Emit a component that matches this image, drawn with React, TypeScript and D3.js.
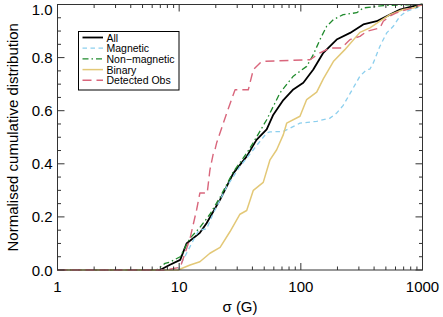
import React from 'react';
import * as d3 from 'd3';

// sigma (G) values and cumulative fractions
const allSigma = [1, 6.96, 8.41, 10.2, 11.5, 14.8, 16.8, 21.7, 27.9, 35.9, 43.2, 52.4, 59.4, 71.8, 86.7, 104.8, 126.6, 153, 197, 254, 326, 420, 540, 653, 840, 1000];
const allValues = [0, 0, 0.02, 0.038, 0.1, 0.14, 0.176, 0.265, 0.365, 0.428, 0.49, 0.53, 0.585, 0.64, 0.68, 0.705, 0.755, 0.818, 0.868, 0.893, 0.925, 0.937, 0.962, 0.981, 0.994, 1.0];

const magSigma = [1, 9.78, 11.5, 13.1, 14.5, 16.8, 19.1, 24.6, 31.6, 40.7, 52.4, 55.8, 71.8, 98.4, 135, 173.6, 197, 223, 254, 306, 348, 370, 394, 447, 508, 575, 653, 742, 896, 1000];
const magValues = [0, 0, 0.063, 0.113, 0.15, 0.155, 0.214, 0.314, 0.39, 0.453, 0.516, 0.52, 0.522, 0.553, 0.56, 0.572, 0.591, 0.62, 0.665, 0.73, 0.755, 0.757, 0.78, 0.843, 0.893, 0.918, 0.956, 0.975, 0.987, 1.0];

const nonMagSigma = [1, 6.5, 7.65, 8.41, 10.2, 12.3, 14.8, 17.9, 21.7, 27.9, 35.9, 40.7, 52.4, 67.4, 86.7, 111.7, 126.6, 143.7, 163, 185, 223, 288, 326, 476, 1000];
const nonMagValues = [0, 0, 0.025, 0.03, 0.05, 0.12, 0.16, 0.21, 0.275, 0.37, 0.44, 0.48, 0.566, 0.667, 0.73, 0.767, 0.811, 0.868, 0.918, 0.943, 0.962, 0.969, 0.987, 0.996, 1.0];

const binSigma = [1, 9.78, 12.3, 14.8, 17.9, 21.7, 26.2, 31.6, 35.9, 40.7, 49.1, 55.8, 63.3, 71.8, 76.5, 98.4, 111.7, 135, 153, 185, 230, 306, 370, 447, 540, 695, 840, 1000];
const binValues = [0, 0, 0.019, 0.031, 0.063, 0.085, 0.145, 0.21, 0.224, 0.3, 0.33, 0.415, 0.453, 0.51, 0.553, 0.579, 0.642, 0.67, 0.72, 0.785, 0.83, 0.895, 0.912, 0.937, 0.962, 0.981, 0.987, 1.0];

const obsSigma = [1, 7.65, 10.2, 12.3, 13.9, 14.8, 17.0, 17.9, 19.1, 19.7, 20.3, 24.6, 28.8, 37.0, 40.7, 46.2, 49.1, 119, 143.7, 173.6, 215, 254, 306, 348, 447, 476, 540, 614, 742, 896, 1000];
const obsValues = [0, 0, 0.01, 0.12, 0.226, 0.29, 0.29, 0.377, 0.44, 0.453, 0.478, 0.591, 0.679, 0.679, 0.755, 0.78, 0.786, 0.792, 0.818, 0.836, 0.836, 0.868, 0.88, 0.899, 0.912, 0.937, 0.956, 0.969, 0.981, 0.994, 1.0];

const seriesNames = ['All', 'Magnetic', 'Non\u2212magnetic', 'Binary', 'Detected Obs'];
const xTickLabels = ['1', '10', '100', '1000'];
const yTickLabels = ['0.0', '0.2', '0.4', '0.6', '0.8', '1.0'];

const series = [
  { name: seriesNames[0], sigma: allSigma, values: allValues, color: '#000000', width: 1.8, dash: null },
  { name: seriesNames[1], sigma: magSigma, values: magValues, color: '#8ccfee', width: 1.3, dash: '4.5,3.5' },
  { name: seriesNames[2], sigma: nonMagSigma, values: nonMagValues, color: '#1f8a2c', width: 1.3, dash: '6,3,1.5,3' },
  { name: seriesNames[3], sigma: binSigma, values: binValues, color: '#e3c877', width: 1.5, dash: null },
  { name: seriesNames[4], sigma: obsSigma, values: obsValues, color: '#d9667c', width: 1.4, dash: '9,5' },
];

const W = 443, H = 317;
const margin = { top: 4.5, right: 20.5, bottom: 47, left: 57.5 };
const font = '"Liberation Sans", Arial, Helvetica, sans-serif';

export default function App() {
  const x = d3.scaleLog().domain([1, 1000]).range([margin.left, W - margin.right]);
  const y = d3.scaleLinear().domain([0, 1]).range([H - margin.bottom, margin.top]);
  const [x0, x1] = x.range();
  const [y0, y1] = y.range();

  const line = d3.line<[number, number]>()
    .x(d => x(d[0]))
    .y(d => y(d[1]));

  const xTicks = x.ticks();
  const isMajorX = (t: number) => Math.abs(Math.log10(t) - Math.round(Math.log10(t))) < 1e-9;
  const yMinor = d3.range(0, 1.0001, 0.05);
  const frame = '#333';

  return (
    <svg width={W} height={H} style={{ position: 'absolute', left: 0, top: 0, background: '#fff' }}>
      {series.map(s => (
        <path key={s.name}
          d={line(s.sigma.map((v, i) => [v, s.values[i]] as [number, number])) || ''}
          fill="none" stroke={s.color} strokeWidth={s.width}
          strokeDasharray={s.dash || undefined} strokeLinejoin="round" />
      ))}

      <rect x={x0} y={y1} width={x1 - x0} height={y0 - y1} fill="none" stroke={frame} strokeWidth={1} />

      {xTicks.map((t, i) => {
        const len = isMajorX(t) ? 7 : 3.5;
        return (
          <g key={'xt' + i} stroke={frame} strokeWidth={1}>
            <line x1={x(t)} x2={x(t)} y1={y0} y2={y0 - len} />
            <line x1={x(t)} x2={x(t)} y1={y1} y2={y1 + len} />
          </g>
        );
      })}
      {yMinor.map((t, i) => {
        const len = i % 4 === 0 ? 7 : 3.5;
        return (
          <g key={'yt' + i} stroke={frame} strokeWidth={1}>
            <line x1={x0} x2={x0 + len} y1={y(t)} y2={y(t)} />
            <line x1={x1} x2={x1 - len} y1={y(t)} y2={y(t)} />
          </g>
        );
      })}

      {xTickLabels.map(l => (
        <text key={l} x={x(+l)} y={y0 + 21.5} textAnchor="middle" fontFamily={font} fontSize={15} fill="#000">{l}</text>
      ))}
      {yTickLabels.map(l => (
        <text key={l} x={x0 - 5} y={Math.max(y(+l) + 5.5, 15)} textAnchor="end" fontFamily={font} fontSize={15} fill="#000">{l}</text>
      ))}

      <text x={(x0 + x1) / 2} y={312} textAnchor="middle" fontFamily={font} fontSize={15} fill="#000">σ (G)</text>
      <text transform={`translate(17.5,${(y0 + y1) / 2}) rotate(-90)`} textAnchor="middle" fontFamily={font} fontSize={15} fill="#000">
        Normalised cumulative distribution
      </text>

      <g>
        <rect x={78.5} y={31.5} width={100.5} height={58.5} fill="#fff" stroke="#000" strokeWidth={1} />
        {series.map((s, i) => (
          <g key={'lg' + i}>
            <line x1={82.5} x2={103} y1={37.5 + i * 10.7} y2={37.5 + i * 10.7}
              stroke={s.color} strokeWidth={s.width} strokeDasharray={s.dash || undefined} />
            <text x={106.5} y={37.5 + i * 10.7 + 4} fontFamily={font} fontSize={10.5} fill="#000">{s.name}</text>
          </g>
        ))}
      </g>
    </svg>
  );
}
